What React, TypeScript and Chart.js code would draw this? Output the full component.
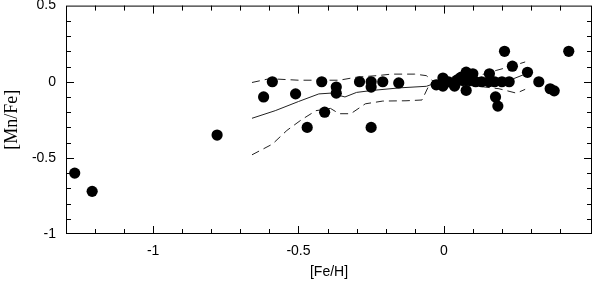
import React, { useEffect, useRef } from "react";
import { Chart, registerables } from "chart.js";

Chart.register(...registerables);

// Star measurements: [Fe/H] and [Mn/Fe]
const feH = [
  -1.27, -1.21, -0.78, -0.62, -0.59, -0.51, -0.47, -0.42, -0.41, -0.37, -0.37,
  -0.29, -0.25, -0.25, -0.25, -0.21, -0.155, -0.026, -0.003, -0.003, 0.016,
  0.037, 0.045, 0.054, 0.06, 0.065, 0.077, 0.077, 0.089, 0.094, 0.1, 0.11,
  0.13, 0.155, 0.157, 0.175, 0.178, 0.186, 0.2, 0.209, 0.225, 0.236, 0.288,
  0.327, 0.366, 0.38, 0.43,
];
const mnFe = [
  -0.6, -0.72, -0.35, -0.1, 0.0, -0.08, -0.3, 0.0, -0.2, -0.035, -0.075,
  0.0, 0.0, -0.035, -0.3, 0.0, -0.008, -0.02, 0.024, -0.029, 0.0,
  -0.029, 0.01, 0.02, 0.03, 0.008, 0.063, -0.057, 0.008, 0.041, 0.052, 0.0,
  0.0, 0.0, 0.052, 0.0, -0.1, -0.16, 0.0, 0.2, 0.0, 0.102, 0.062,
  0.0, -0.046, -0.06, 0.2,
];

// Running mean (solid) and dispersion envelope (dashed)
const meanX = [-0.66, -0.58, -0.5, -0.43, -0.39, -0.34, -0.3, -0.245, -0.15, -0.06, -0.03, 0.0, 0.06, 0.12, 0.19, 0.24, 0.28];
const meanY = [-0.24, -0.19, -0.13, -0.08, -0.075, -0.1, -0.07, -0.057, -0.04, -0.03, -0.01, 0.0, 0.005, 0.0, 0.008, 0.02, 0.05];

const upperX = [-0.66, -0.6, -0.5, -0.42, -0.36, -0.3, -0.23, -0.18, -0.1, -0.06, -0.04, 0.0, 0.06, 0.12, 0.18, 0.23, 0.28];
const upperY = [-0.005, 0.02, 0.01, 0.01, 0.01, 0.03, 0.04, 0.05, 0.05, 0.04, 0.008, 0.01, 0.03, 0.04, 0.074, 0.1, 0.13];

const lowerX = [-0.66, -0.59, -0.54, -0.49, -0.44, -0.39, -0.36, -0.32, -0.27, -0.21, -0.13, -0.075, -0.055, -0.04, 0.0, 0.06, 0.12, 0.19, 0.25, 0.28];
const lowerY = [-0.48, -0.41, -0.32, -0.25, -0.19, -0.175, -0.21, -0.21, -0.145, -0.127, -0.125, -0.12, -0.04, 0.0, -0.01, -0.02, -0.03, -0.046, -0.075, -0.05];

const xMin = -1.3;
const xMax = 0.51;
const yMin = -1;
const yMax = 0.5;
const labelStep = 0.5;

const pts = (xs: number[], ys: number[]) => xs.map((x, i) => ({ x, y: ys[i] }));

const isMultiple = (v: number, step: number) => Math.abs(v / step - Math.round(v / step)) < 1e-6;

const frameTicks = {
  id: "frameTicks",
  afterDraw(chart: any) {
    const { ctx, chartArea } = chart;
    const { left, right, top, bottom } = chartArea;
    ctx.save();
    ctx.strokeStyle = "#000";
    ctx.lineWidth = 1;
    ctx.strokeRect(left + 0.5, top + 0.5, right - left - 1, bottom - top - 1);
    const xs = chart.scales.x;
    const ys = chart.scales.y;
    ctx.beginPath();
    xs.ticks.forEach((t: any) => {
      const v = t.value;
      if (!isMultiple(v, 0.1) || v <= xMin + 1e-6 || v >= xMax - 1e-6) return;
      const len = isMultiple(v, labelStep) ? 8 : 5;
      const p = Math.round(xs.getPixelForValue(v)) + 0.5;
      ctx.moveTo(p, bottom);
      ctx.lineTo(p, bottom - len);
      ctx.moveTo(p, top);
      ctx.lineTo(p, top + len);
    });
    ys.ticks.forEach((t: any) => {
      const v = t.value;
      if (!isMultiple(v, 0.1) || v <= yMin + 1e-6 || v >= yMax - 1e-6) return;
      const len = isMultiple(v, labelStep) ? 8 : 5;
      const p = Math.round(ys.getPixelForValue(v)) + 0.5;
      ctx.moveTo(left, p);
      ctx.lineTo(left + len, p);
      ctx.moveTo(right, p);
      ctx.lineTo(right - len, p);
    });
    ctx.stroke();
    ctx.restore();
  },
};

export default function App() {
  const ref = useRef<HTMLCanvasElement | null>(null);
  useEffect(() => {
    if (!ref.current) return;
    const lineStyle = {
      showLine: true,
      pointRadius: 0,
      borderWidth: 1,
      borderColor: "#222",
      backgroundColor: "transparent",
      tension: 0,
    };
    const chart = new Chart(ref.current, {
      type: "scatter",
      data: {
        datasets: [
          {
            label: "stars",
            data: pts(feH, mnFe),
            pointRadius: 5.6,
            pointBorderWidth: 0,
            backgroundColor: "#000",
            borderColor: "#000",
          },
          { label: "mean", data: pts(meanX, meanY), ...lineStyle },
          { label: "upper", data: pts(upperX, upperY), ...lineStyle, borderDash: [8, 5] },
          { label: "lower", data: pts(lowerX, lowerY), ...lineStyle, borderDash: [8, 5] },
        ],
      },
      options: {
        animation: false,
        responsive: false,
        layout: { padding: { top: 5, right: 8, left: 0, bottom: 0 } },
        plugins: { legend: { display: false }, tooltip: { enabled: false } },
        scales: {
          x: {
            type: "linear",
            min: xMin,
            max: xMax,
            border: { display: false },
            grid: { display: false, drawTicks: false },
            afterFit: (s: any) => {
              s.height = 51;
              s.paddingLeft = 0;
              s.paddingRight = 0;
            },
            ticks: {
              stepSize: 0.1,
              padding: 9,
              color: "#000",
              font: { family: "'Liberation Sans', Arial, sans-serif", size: 14 },
              maxRotation: 0,
              autoSkip: false,
              callback: (v: any) => (isMultiple(Number(v), labelStep) ? String(Math.round(Number(v) * 10) / 10) : ""),
            },
            title: {
              display: true,
              text: "[Fe/H]",
              color: "#000",
              font: { family: "'Liberation Sans', Arial, sans-serif", size: 14 },
              padding: { top: 0, bottom: 4 },
            },
          },
          y: {
            type: "linear",
            min: yMin,
            max: yMax,
            border: { display: false },
            grid: { display: false, drawTicks: false },
            afterFit: (s: any) => {
              s.width = 66;
              s.paddingTop = 0;
              s.paddingBottom = 0;
            },
            ticks: {
              stepSize: 0.1,
              padding: 10,
              color: "#000",
              font: { family: "'Liberation Sans', Arial, sans-serif", size: 14 },
              autoSkip: false,
              callback: (v: any) => (isMultiple(Number(v), labelStep) ? String(Math.round(Number(v) * 10) / 10) : ""),
            },
            title: {
              display: true,
              text: "[Mn/Fe]",
              color: "#000",
              font: { family: "'Liberation Serif', 'Times New Roman', serif", size: 18 },
              padding: { top: 1, bottom: 0 },
            },
          },
        },
      },
      plugins: [frameTicks],
    });
    return () => chart.destroy();
  }, []);
  return (
    <div style={{ position: "fixed", left: 0, top: 0, width: 600, height: 285, background: "#fff" }}>
      <canvas ref={ref} width={600} height={285} style={{ display: "block" }} />
    </div>
  );
}
